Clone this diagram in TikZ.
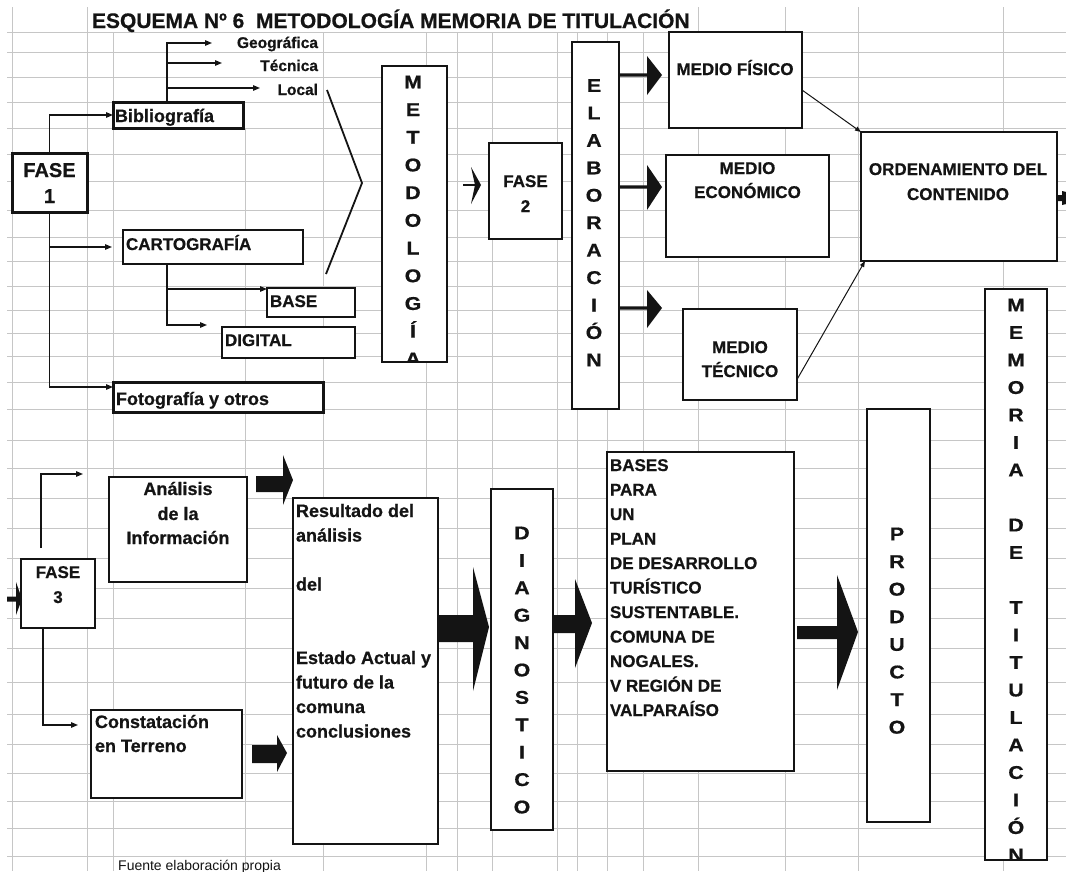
\documentclass[tikz,border=0pt]{standalone}
\usepackage{fontspec}
\usepackage{graphicx}
\setmainfont{Liberation Sans}[BoldFeatures={FakeBold=0.6}]
\usetikzlibrary{arrows.meta,calc}
\definecolor{gridgray}{RGB}{198,198,198}
\definecolor{ink}{RGB}{20,20,20}
\newcommand\fsz[2]{\fontsize{#1}{#2}\selectfont}
\newcommand\widel[1]{\scalebox{1.15}[1]{#1}}
\newcommand\bx[6]{\node[#2, anchor=north west, minimum width={(#5-#3)*1pt}, minimum height={(#6-#4)*1pt}] (#1) at (#3,#4) {};}
\newcommand\blockarrow[7]{%
  \fill[blk] let \p1=(#1) in
   (\x1,{\y1+#4pt}) -- ({\x1+#2pt},{\y1+#4pt}) -- ({\x1+#2pt},{\y1+#5pt}) --
   ({\x1+#2pt+#3pt},{\y1+#7pt}) -- ({\x1+#2pt},{\y1-#6pt}) -- ({\x1+#2pt},{\y1-#4pt}) --
   (\x1,{\y1-#4pt}) -- cycle;}
\tikzset{
  gridline/.style={draw=gridgray, line width=1pt},
  box/.style={draw=ink, fill=white, line width=1.5pt, rectangle, inner sep=0pt, outer sep=0pt},
  thickbox/.style={box, line width=3pt},
  lbl/.style={inner sep=0pt, outer sep=0pt, font=\bfseries\fsz{17}{20}, text=ink},
  lowlbl/.style={lbl, font=\bfseries\fsz{18}{20}},
  smalllbl/.style={lbl, font=\bfseries\fsz{15.5}{17}},
  biglbl/.style={lbl, font=\bfseries\fsz{20}{22}},
  vletter/.style={lbl, font=\bfseries\fsz{18.5}{20}, anchor=base},
  conn/.style={draw=ink, line width=1.3pt, -{Triangle[length=7pt,width=5.5pt]}},
  thinconn/.style={draw=ink, line width=1pt, -{Triangle[length=6pt,width=4.5pt]}},
  chev/.style={draw=ink, line width=1.8pt},
  blk/.style={fill=ink},
}
\begin{document}
\begin{tikzpicture}[x=1pt,y=-1pt]
\useasboundingbox (0,0) rectangle (1066,871);
\fill[white] (0,0) rectangle (1066,871);
% spreadsheet grid
\foreach \y in {32,52,77,102,128,154,181,210,237,261,286,310,333,356,382,409,440,468,498,528,558,588,618,648,682,714,744,773,801,828,856}
  \draw[gridline] (7,\y) -- (1066,\y);
\foreach \x in {12,87,698,785,858,1003} \draw[gridline] (\x,7) -- (\x,871);
\foreach \x in {113,323,426,457,492,557,577,607,643} \draw[gridline] (\x,32) -- (\x,871);
\draw[gridline] (245,128) -- (245,871);

% title
\node[lbl, font=\bfseries\fsz{21}{24}, anchor=base west] (title) at (92,28) {ESQUEMA Nº 6\ \ METODOLOGÍA MEMORIA DE TITULACIÓN};

% ---------- boxes ----------
\bx{fase1}{thickbox}{12}{153}{87}{212}
\bx{biblio}{thickbox}{113}{102}{243}{128}
\bx{carto}{box}{123}{230}{303}{264}
\bx{base}{box}{267}{288}{355}{317}
\bx{digital}{box}{222}{327}{355}{358}
\bx{foto}{thickbox}{113}{382}{323}{412}
\bx{met}{box}{382}{66}{447}{362}
\bx{fase2}{box}{489}{143}{562}{239}
\bx{elab}{box}{572}{42}{619}{409}
\bx{mf}{box}{669}{32}{802}{128}
\bx{me}{box}{666}{155}{829}{257}
\bx{mt}{box}{683}{309}{797}{400}
\bx{ord}{box}{861}{132}{1057}{261}
\bx{mem}{box}{985}{289}{1047}{860}
\bx{fase3}{box}{21}{559}{95}{628}
\bx{anal}{box}{109}{477}{247}{582}
\bx{cons}{box}{91}{710}{242}{798}
\bx{res}{box}{293}{498}{438}{844}
\bx{diag}{box}{491}{489}{553}{830}
\bx{bases}{box}{607}{452}{794}{771}
\bx{prod}{box}{867}{409}{930}{822}

% ---------- texts ----------
\node[smalllbl, anchor=base east] (geo) at (318,48) {Geográfica};
\node[smalllbl, anchor=base east] (tec) at (318,71) {Técnica};
\node[smalllbl, anchor=base east] (loc) at (318,95) {Local};
\node[lowlbl, anchor=base west] (bibT) at (115,122) {Bibliografía};
\node[biglbl, anchor=base] (f1a) at (49.5,177) {FASE};
\node[biglbl, anchor=base] (f1b) at (49.5,203) {1};
\node[lbl, anchor=base west] (cartoT) at (126,250) {CARTOGRAFÍA};
\node[lbl, anchor=base west] (baseT) at (270,307) {BASE};
\node[lbl, anchor=base west] (digT) at (225,346) {DIGITAL};
\node[lowlbl, anchor=base west] (fotoT) at (116,405) {Fotografía y otros};
\node[lbl, anchor=base] (f2a) at (525.5,187) {FASE};
\node[lbl, anchor=base] (f2b) at (525.5,212) {2};
\node[lbl, anchor=base] (mfT) at (735,75) {MEDIO FÍSICO};
\node[lbl, anchor=base] (meA) at (747.5,174) {MEDIO};
\node[lbl, anchor=base] (meB) at (747.5,198) {ECONÓMICO};
\node[lbl, anchor=base] (ordA) at (958,175) {ORDENAMIENTO DEL};
\node[lbl, anchor=base] (ordB) at (958,200) {CONTENIDO};
\node[lbl, anchor=base] (mtA) at (740,353) {MEDIO};
\node[lbl, anchor=base] (mtB) at (740,377) {TÉCNICO};
\node[lbl, anchor=base] (f3a) at (58,578) {FASE};
\node[lbl, anchor=base] (f3b) at (58,603) {3};
\node[lowlbl, anchor=base] (anA) at (178,495) {Análisis};
\node[lowlbl, anchor=base] (anB) at (178,520) {de la};
\node[lowlbl, anchor=base] (anC) at (178,544) {Información};
\node[lowlbl, anchor=base west] (coA) at (95,728) {Constatación};
\node[lowlbl, anchor=base west] (coB) at (95,752) {en Terreno};
\foreach \i/\t in {0/Resultado del,1/análisis,3/del,6/Estado Actual y,7/futuro de la,8/comuna,9/conclusiones}
  \node[lowlbl, anchor=base west] (res\i) at (296,{517+24.5*\i}) {\t};
\foreach \i/\t in {0/BASES,1/PARA,2/UN,3/PLAN,4/DE DESARROLLO,5/TURÍSTICO,6/SUSTENTABLE.,7/COMUNA DE,8/NOGALES.,9/V REGIÓN DE,10/VALPARAÍSO}
  \node[lbl, anchor=base west] (bas\i) at (610,{471+24.5*\i}) {\t};
\node[inner sep=0pt, font=\fsz{14}{16}, text=ink, anchor=base west] (fuente) at (118,870) {Fuente elaboración propia};

% vertical words
\begin{scope}
\clip (met.north west) rectangle (met.south east);
\foreach \i/\l in {0/M,1/E,2/T,3/O,4/D,5/O,6/L,7/O,8/G,9/Í,10/A}
  \node[vletter] (met\i) at (413,{88.3+27.7*\i}) {\widel{\l}};
\end{scope}
\foreach \i/\l in {0/E,1/L,2/A,3/B,4/O,5/R,6/A,7/C,8/I,9/Ó,10/N}
  \node[vletter] (ela\i) at (594,{91.9+27.45*\i}) {\widel{\l}};
\foreach \i/\l in {0/D,1/I,2/A,3/G,4/N,5/O,6/S,7/T,8/I,9/C,10/O}
  \node[vletter] (dia\i) at (522,{539.4+27.4*\i}) {\widel{\l}};
\foreach \i/\l in {0/P,1/R,2/O,3/D,4/U,5/C,6/T,7/O}
  \node[vletter] (pro\i) at (897,{540.4+27.6*\i}) {\widel{\l}};
\begin{scope}
\clip (mem.north west) rectangle (mem.south east);
\foreach \i/\l in {0/M,1/E,2/M,3/O,4/R,5/I,6/A,8/D,9/E,11/T,12/I,13/T,14/U,15/L,16/A,17/C,18/I,19/Ó,20/N}
  \node[vletter] (mem\i) at (1016,{311.4+27.5*\i}) {\widel{\l}};
\end{scope}

% ---------- thin connectors ----------
\draw[conn] (fase1.north) |- (biblio.west);
\draw[conn, shorten >=11pt] (fase1.south) |- (carto.west);
\draw[conn] (fase1.south) |- ([yshift=10pt]foto.west);
\coordinate (bibtop) at (167,102);
\coordinate (geoTip) at (212,43);
\coordinate (tecTip) at (222,63);
\coordinate (locTip) at (260,88);
\draw[conn] (bibtop) |- (geoTip);
\draw[conn] (bibtop |- tecTip) -- (tecTip);
\draw[conn] (bibtop |- locTip) -- (locTip);
\coordinate (cartbot) at (167,264);
\coordinate (baseIn) at (267,289);
\coordinate (digTip) at (207,325);
\draw[conn] (cartbot) |- (baseIn);
\draw[conn] (cartbot) |- (digTip);
% bracket into METODOLOGIA
\coordinate (chA) at (327,90);
\coordinate (chB) at (362,183);
\coordinate (chC) at (326,274);
\draw[chev] (chA) -- (chB) -- (chC);
% arrow into FASE 2
\coordinate (f2s) at (463,185);
\coordinate (f2t) at (481,185);
\draw[draw=ink, line width=2.2pt] (f2s) -- (476,185);
\fill[blk] (f2t) -- (471,167) -- (475,185) -- (471,204) -- cycle;
% medio -> ordenamiento
\draw[thinconn] ([yshift=-10pt]mf.east) -- (ord.north west);
\draw[thinconn] ([yshift=-25pt]mt.east) -- ([xshift=4pt]ord.south west);
% FASE 3 branches
\coordinate (f3up) at (41,548);
\coordinate (anTip) at (83,474);
\coordinate (coTip) at (78,725);
\draw[conn] (f3up) |- (anTip);
\draw[conn] ([xshift=-15pt]fase3.south) |- (coTip);

% ---------- block arrows ----------
\coordinate (ea1) at (619,75);
\coordinate (ea2) at (619,187);
\coordinate (ea3) at (619,308);
\blockarrow{ea1}{28}{15}{1.6}{19}{20}{0}
\blockarrow{ea2}{28}{15}{1.6}{22}{23}{0}
\blockarrow{ea3}{28}{15}{1.6}{18}{20}{0}
\coordinate (inF3) at (7,599);
\blockarrow{inF3}{9}{6}{2.5}{17}{16}{0}
\coordinate (baA) at (256,484);
\blockarrow{baA}{27}{10}{8}{29}{21}{4}
\coordinate (baC) at (252,754);
\blockarrow{baC}{25}{10}{9}{19}{18}{1}
\coordinate (baR) at (438,628.5);
\blockarrow{baR}{35}{16}{13.5}{61.5}{62.5}{1.5}
\coordinate (baD) at (553,624);
\blockarrow{baD}{22}{17}{9}{45}{44}{1}
\coordinate (baB) at (797,632.5);
\blockarrow{baB}{40}{21}{6.5}{57.5}{57.5}{0.5}
\coordinate (baO) at (1057,198);
\blockarrow{baO}{5}{30}{3}{7}{7}{0}
\end{tikzpicture}
\end{document}
